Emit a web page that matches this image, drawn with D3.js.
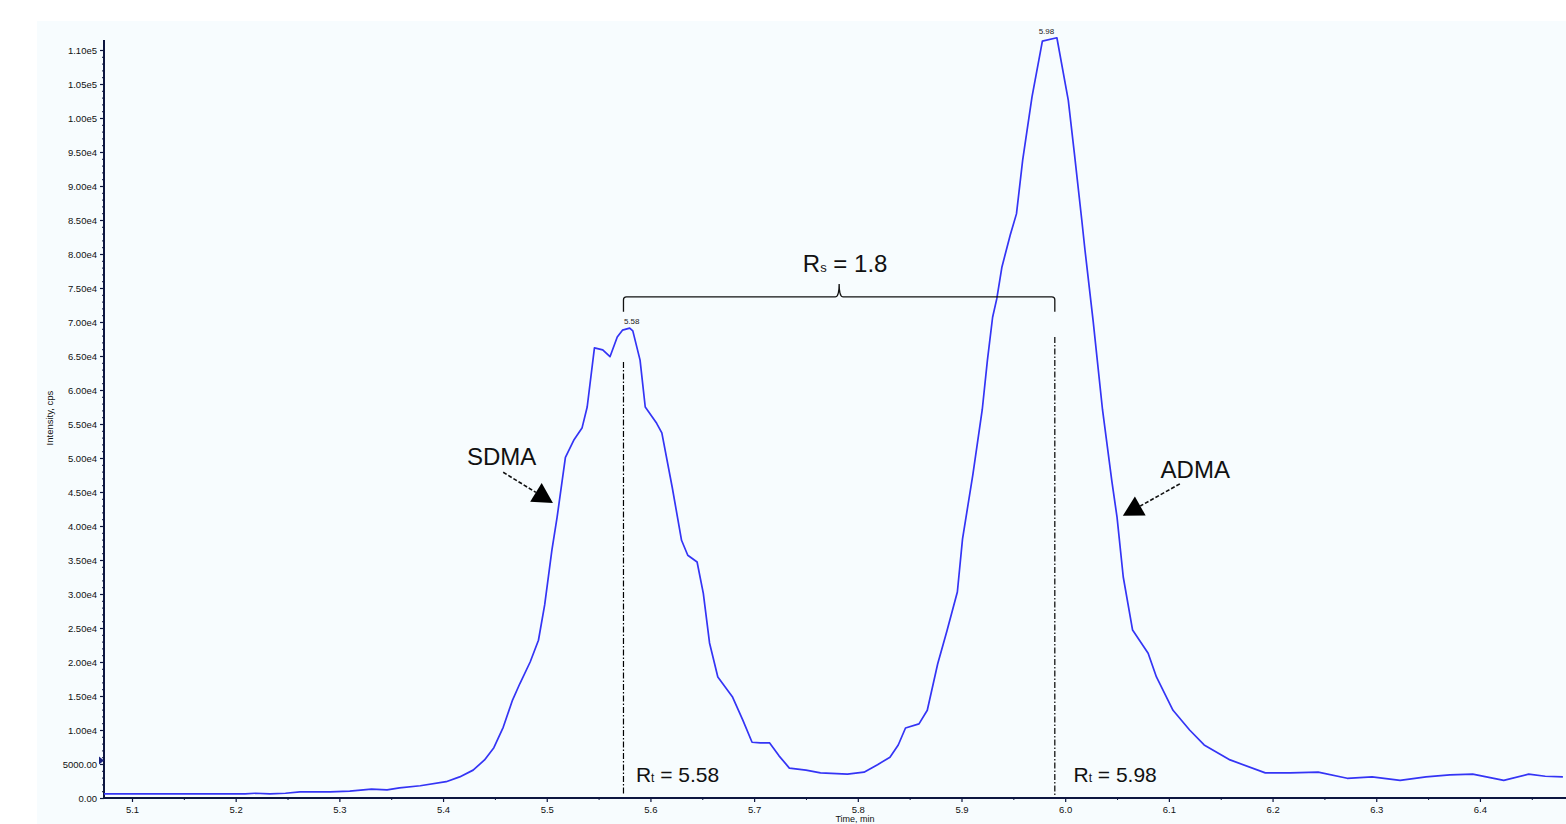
<!DOCTYPE html>
<html>
<head>
<meta charset="utf-8">
<script src="https://cdn.jsdelivr.net/npm/d3@7"></script>
<style>
  html, body { margin: 0; padding: 0; background: #fff; }
  svg { display: block; }
  text { font-family: "Liberation Sans", Arial, sans-serif; }
</style>
</head>
<body>
<script>
const width = 1566;
const height = 824;

// chromatogram trace
const times = [5.073, 5.209, 5.219, 5.233, 5.248, 5.262, 5.291, 5.310, 5.331, 5.346,
  5.358, 5.378, 5.403, 5.416, 5.429, 5.440, 5.449, 5.458, 5.467, 5.474,
  5.484, 5.492, 5.498, 5.505, 5.510, 5.518, 5.526, 5.534, 5.539, 5.546,
  5.554, 5.561, 5.568, 5.573, 5.580, 5.583, 5.590, 5.595, 5.606, 5.611,
  5.621, 5.630, 5.636, 5.645, 5.651, 5.657, 5.665, 5.679, 5.689, 5.698,
  5.706, 5.715, 5.724, 5.734, 5.750, 5.764, 5.790, 5.806, 5.819, 5.831,
  5.839, 5.846, 5.859, 5.867, 5.877, 5.886, 5.896, 5.901, 5.911, 5.920,
  5.925, 5.930, 5.934, 5.939, 5.947, 5.953, 5.959, 5.968, 5.978, 5.992,
  6.003, 6.009, 6.016, 6.019, 6.027, 6.036, 6.045, 6.050, 6.056, 6.065,
  6.080, 6.088, 6.104, 6.120, 6.134, 6.159, 6.193, 6.217, 6.244, 6.272,
  6.296, 6.323, 6.348, 6.371, 6.393, 6.423, 6.447, 6.463, 6.480];
const intensities = [600, 600, 700, 600, 700, 900, 900, 1000, 1300, 1200,
  1500, 1800, 2400, 3100, 4100, 5600, 7400, 10400, 14400, 16800,
  20000, 23200, 28400, 36500, 41300, 50100, 52600, 54400, 57500, 66200,
  65900, 64900, 67800, 68800, 69100, 68700, 64400, 57500, 55100, 53700,
  45700, 37900, 35700, 34700, 30100, 22800, 17800, 14900, 11500, 8200,
  8100, 8100, 6200, 4400, 4100, 3700, 3500, 3800, 4900, 6000,
  7800, 10300, 10900, 12900, 19700, 24600, 30300, 38100, 47600, 57100,
  64400, 70700, 73400, 78100, 82800, 85900, 93800, 103100, 111300, 111800,
  102600, 94600, 85000, 80700, 70100, 57100, 46600, 41300, 32500, 24700,
  21300, 17800, 12900, 10000, 7800, 5600, 3700, 3700, 3800, 2900,
  3100, 2600, 3100, 3400, 3500, 2600, 3500, 3200, 3100];

const xTickValues = [5.1, 5.2, 5.3, 5.4, 5.5, 5.6, 5.7, 5.8, 5.9, 6.0, 6.1, 6.2, 6.3, 6.4];
const xTickLabels = ['5.1', '5.2', '5.3', '5.4', '5.5', '5.6', '5.7', '5.8', '5.9', '6.0', '6.1', '6.2', '6.3', '6.4'];
const yTickValues = [0, 5000, 10000, 15000, 20000, 25000, 30000, 35000, 40000, 45000, 50000, 55000,
  60000, 65000, 70000, 75000, 80000, 85000, 90000, 95000, 100000, 105000, 110000];

// apex labels
const peakTimes = [5.58, 5.98];
const peakHeights = [69100, 111800];
const peakLabels = ['5.58', '5.98'];

// retention time markers
const rtTimes = [5.574, 5.990];
const rtTops = [64100, 67800];
const rtLabels = ['5.58', '5.98'];
const rtTextTimes = [5.586, 6.008];

// compound arrows: text anchor, arrow start, arrow tip
const compounds = ['SDMA', 'ADMA'];
const compoundTextT = [5.423, 6.092];
const compoundTextV = [49000, 47000];
const arrowFromT = [5.458, 6.1106];
const arrowFromV = [47900, 46200];
const arrowTipT = [5.506, 6.0556];
const arrowTipV = [43400, 41500];

// resolution bracket
const rsLabel = '1.8';
const bracketLevel = 73700;
const bracketFoot = 71500;
const bracketPeak = 75600;
const bracketMid = 5.782;

const x = d3.scaleLinear().domain([5.073, 6.483]).range([104, 1566]);
const y = d3.scaleLinear().domain([0, 110000]).range([798, 50]);

const svg = d3.select('body').append('svg')
  .attr('width', width)
  .attr('height', height);

svg.append('rect')
  .attr('x', 37).attr('y', 21)
  .attr('width', width - 37).attr('height', height - 21)
  .attr('fill', '#f7fcfe');

const axisColor = '#0d1640';
const fmtY = v => v < 10000 ? v.toFixed(2) : v.toExponential(2).replace('+', '');

// y axis
let gy = svg.append('g')
  .attr('transform', `translate(${x.range()[0]},0)`)
  .call(d3.axisLeft(y).tickValues(yTickValues).tickSize(4).tickPadding(3).tickFormat(fmtY));
gy.select('.domain').remove();
gy.selectAll('line').attr('stroke', axisColor).attr('stroke-width', 1.2);
gy.selectAll('text').attr('font-size', 9.5).attr('fill', '#111');

let gyMinor = svg.append('g')
  .attr('transform', `translate(${x.range()[0]},0)`)
  .call(d3.axisLeft(y).tickValues(d3.range(0, 111000, 1000)).tickSize(2).tickFormat(''));
gyMinor.select('.domain').remove();
gyMinor.selectAll('line').attr('stroke', axisColor);

svg.append('line')
  .attr('x1', x.range()[0]).attr('x2', x.range()[0])
  .attr('y1', 40).attr('y2', y(0) + 1)
  .attr('stroke', axisColor).attr('stroke-width', 2);

// small threshold marker on the y axis
svg.append('path')
  .attr('d', `M${x.range()[0] - 5},${y(5500) - 4} L${x.range()[0]},${y(5500)} L${x.range()[0] - 5},${y(5500) + 4} Z`)
  .attr('fill', '#1a237e');

// x axis
let gx = svg.append('g')
  .attr('transform', `translate(0,${y(0)})`)
  .call(d3.axisBottom(x).tickValues(xTickValues).tickSize(4).tickPadding(4)
    .tickFormat((d, i) => xTickLabels[i]));
gx.select('.domain').remove();
gx.selectAll('line').attr('stroke', axisColor).attr('stroke-width', 1.2);
gx.selectAll('text').attr('font-size', 9.5).attr('fill', '#111');

let gxMinor = svg.append('g')
  .attr('transform', `translate(0,${y(0)})`)
  .call(d3.axisBottom(x).tickValues(xTickValues.map(t => t + 0.05)).tickSize(2).tickFormat(''));
gxMinor.select('.domain').remove();
gxMinor.selectAll('line').attr('stroke', axisColor);

svg.append('line')
  .attr('x1', x.range()[0]).attr('x2', width)
  .attr('y1', y(0)).attr('y2', y(0))
  .attr('stroke', axisColor).attr('stroke-width', 2);

svg.append('text')
  .attr('x', 855).attr('y', 822)
  .attr('text-anchor', 'middle')
  .attr('font-size', 9)
  .attr('fill', '#111')
  .text('Time, min');

svg.append('text')
  .attr('transform', `translate(53,${418}) rotate(-90)`)
  .attr('text-anchor', 'middle')
  .attr('font-size', 9.5)
  .attr('fill', '#111')
  .text('Intensity, cps');

// trace
const trace = times.map((t, i) => [t, intensities[i]]);
svg.append('path')
  .datum(trace)
  .attr('d', d3.line().x(d => x(d[0])).y(d => y(d[1])))
  .attr('fill', 'none')
  .attr('stroke', '#3434f5')
  .attr('stroke-width', 1.7)
  .attr('stroke-linejoin', 'round');

// apex labels
svg.selectAll('text.peak')
  .data(peakTimes)
  .enter().append('text')
  .attr('class', 'peak')
  .attr('x', d => x(d) + 2)
  .attr('y', (d, i) => y(peakHeights[i]) - 4)
  .attr('text-anchor', 'middle')
  .attr('font-size', 8)
  .attr('fill', '#222')
  .text((d, i) => peakLabels[i]);

// retention time markers
svg.selectAll('line.rt')
  .data(rtTimes)
  .enter().append('line')
  .attr('class', 'rt')
  .attr('x1', d => x(d)).attr('x2', d => x(d))
  .attr('y1', (d, i) => y(rtTops[i]))
  .attr('y2', y(0) - 3)
  .attr('stroke', '#000')
  .attr('stroke-width', 1.2)
  .attr('stroke-dasharray', '6,2,1.5,2');

rtTimes.forEach((t, i) => {
  let txt = svg.append('text')
    .attr('x', x(rtTextTimes[i]))
    .attr('y', y(2350))
    .attr('font-size', 21)
    .attr('fill', '#111');
  txt.append('tspan').text('R');
  txt.append('tspan').attr('font-size', 12).text('t');
  txt.append('tspan').text(` = ${rtLabels[i]}`);
});

// resolution bracket
let bp = d3.path();
let xl = x(rtTimes[0]), xr = x(rtTimes[1]), xm = x(bracketMid);
let yl = y(bracketLevel), yf = y(bracketFoot), yp = y(bracketPeak);
bp.moveTo(xl, yf);
bp.lineTo(xl, yl + 3);
bp.quadraticCurveTo(xl, yl, xl + 3, yl);
bp.lineTo(xm - 4, yl);
bp.quadraticCurveTo(xm, yl, xm, yp);
bp.quadraticCurveTo(xm, yl, xm + 4, yl);
bp.lineTo(xr - 3, yl);
bp.quadraticCurveTo(xr, yl, xr, yl + 3);
bp.lineTo(xr, yf);
svg.append('path')
  .attr('d', bp.toString())
  .attr('fill', 'none')
  .attr('stroke', '#111')
  .attr('stroke-width', 1.3);

let rs = svg.append('text')
  .attr('x', xm + 6)
  .attr('y', y(77400))
  .attr('text-anchor', 'middle')
  .attr('font-size', 24)
  .attr('fill', '#111');
rs.append('tspan').text('R');
rs.append('tspan').attr('font-size', 13).text('s');
rs.append('tspan').text(` = ${rsLabel}`);

// compound labels and arrows
compounds.forEach((name, i) => {
  svg.append('text')
    .attr('x', x(compoundTextT[i]))
    .attr('y', y(compoundTextV[i]))
    .attr('font-size', 24)
    .attr('fill', '#111')
    .text(name);

  let x0 = x(arrowFromT[i]), y0 = y(arrowFromV[i]);
  let x1 = x(arrowTipT[i]), y1 = y(arrowTipV[i]);
  let len = Math.hypot(x1 - x0, y1 - y0);
  let ux = (x1 - x0) / len, uy = (y1 - y0) / len;
  let bx = x1 - 20 * ux, by = y1 - 20 * uy;

  svg.append('line')
    .attr('x1', x0).attr('y1', y0)
    .attr('x2', bx).attr('y2', by)
    .attr('stroke', '#111')
    .attr('stroke-width', 1.6)
    .attr('stroke-dasharray', '4,2');

  svg.append('path')
    .attr('d', `M${x1},${y1} L${bx - 11 * uy},${by + 11 * ux} L${bx + 11 * uy},${by - 11 * ux} Z`)
    .attr('fill', '#000');
});
</script>
</body>
</html>
